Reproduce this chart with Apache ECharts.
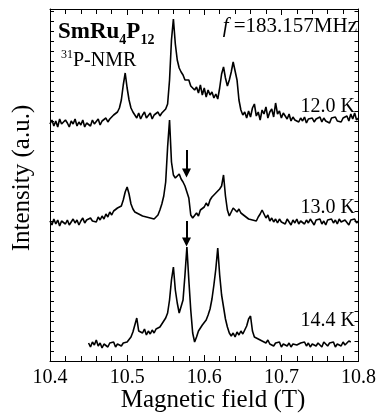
<!DOCTYPE html>
<html>
<head>
<meta charset="utf-8">
<script src="https://cdn.jsdelivr.net/npm/echarts@6/dist/echarts.min.js"></script>
<style>
  html, body { margin: 0; padding: 0; background: #fff; }
  #chart { width: 379px; height: 414px; }
</style>
</head>
<body>
<div id="chart"></div>
<script>
// 31P-NMR spectra of SmRu4P12, f = 183.157 MHz, sampled every 2.5 mT.
const FIELD_STEP = 0.0025;

// 12.0 K trace (intensity relative to its own baseline, a.u.)
const fieldStart12K = 10.40;
const intensity12K = [
  0.0, 0.4, -0.2, 0.3, -0.3, 0.5, 0.0, -0.2, 0.4, 0.1, -0.3, 0.3, 0.0, 0.5, -0.2, 0.2,
  -0.1, 0.4, -0.3, 0.1, 0.3, -0.2, 0.4, 0.0, 0.2, 0.5, -0.1, 0.3, 0.1, 0.6, 0.2, 0.5,
  0.6, 0.9, 0.7, 1.2, 1.6, 2.4, 3.9, 5.1, 3.6, 2.4, 1.6, 1.2, 1.0,
  0.6, 1.1, 0.5, 0.9, 1.2, 0.6, 0.8, 1.1, 0.5, 0.9, 0.7, 1.2, 0.8, 1.1,
  1.2, 1.5, 2.0, 4.4, 8.4, 10.5, 8.0, 6.4, 5.6, 5.2, 4.9, 4.4, 4.2, 4.4, 3.8, 4.0,
  3.4, 3.7, 3.1, 3.9, 2.9, 3.6, 2.7, 3.4, 2.9, 3.2, 2.6, 3.0, 2.5, 3.6, 5.0, 5.7,
  4.6, 3.8, 4.4, 5.2, 6.2, 6.4, 4.4, 2.4, 1.4, 0.9, 1.2, 0.6,
  1.3, 0.7, 1.6, 2.0, 0.8, 1.2, 0.4, 1.4, 1.0, 1.7, 0.6, 1.2, 1.5, 0.7, 2.1, 1.0,
  1.3, 0.6, 1.1, 0.8, 0.5, 1.0, 0.3, 0.7, 0.4, 0.6,
  0.2, 0.6, 0.3, 0.7, 0.1, 0.5, 0.3, 0.6, 0.2, 0.5, 0.4, 0.7, 0.2, 0.6, 0.3, 0.5,
  0.1, 0.6, 0.4, 0.7, 0.3, 0.5, 0.2, 0.6, 0.4, 0.8, 0.3, 1.0, 0.5, 1.1, 0.4, 0.6
];

// 13.0 K trace
const fieldStart13K = 10.40;
const intensity13K = [
  0.1, -0.3, 0.3, -0.2, 0.2, -0.4, 0.1, 0.3, -0.2, 0.2, -0.3, 0.0, 0.3, -0.1, 0.2, -0.3,
  0.1, 0.4, -0.1, 0.2, 0.0, 0.4, 0.1, 0.3, 0.0, 0.5,
  0.2, 0.6, 0.3, 0.8, 0.5, 1.0, 0.7, 1.1, 1.0, 1.4, 1.2, 1.6,
  2.2, 3.0, 3.5, 2.8, 1.8, 1.3, 1.0, 1.1, 0.8, 0.9, 0.6, 0.8, 0.5, 0.7, 0.4, 0.6,
  0.3, 0.5, 0.7, 1.2, 1.8, 2.6, 4.0,
  7.5, 10.2, 6.0, 4.7, 4.4, 4.6, 4.8, 4.3, 4.0, 3.6, 3.0, 2.4, 0.7, 0.4, 0.6, 0.9,
  0.6, 1.2, 1.0, 1.5, 1.9, 1.6, 2.2, 2.5, 2.3, 2.9, 2.7, 3.3, 3.6, 4.7, 2.6, 1.2,
  0.6, 0.8, 1.4, 1.6, 1.0, 1.3, 0.9, 1.1,
  0.6, 0.7, 0.3, 0.5, 0.2, 0.4, 0.1, 0.5, 0.8, 1.2, 1.0, 0.4, 0.7, 0.1, 0.4, 0.0,
  0.3, -0.1, 0.3, 0.0,
  0.2, -0.2, 0.3, 0.0, -0.3, 0.2, -0.1, 0.3, -0.2, 0.1, 0.3, -0.2, 0.2, -0.1, 0.3, 0.0,
  -0.3, 0.2, 0.0, 0.3, -0.2, 0.1, -0.3, 0.2, 0.0, 0.3, -0.1, 0.2, -0.2, 0.3, 0.0, -0.2,
  0.2, 0.1, -0.3, 0.2, 0.0, 0.3, -0.1, 0.1
];

// 14.4 K trace
const fieldStart144K = 10.45;
const intensity144K = [
  0.2, -0.2, 0.3, 0.0, 0.5, -0.1, 0.2, -0.3, 0.1, 0.3, -0.2, 0.2, 0.0, 0.3, -0.2, 0.1,
  0.3, -0.1, 0.2, 0.0, 0.3,
  0.5, 0.8, 1.3, 1.1, 2.7, 1.4, 1.6, 1.2, 1.6, 1.0, 1.4, 1.1, 1.5, 1.2, 1.6, 1.4,
  1.8, 2.0, 2.4, 2.7, 3.2, 4.5, 6.5, 7.8, 5.5, 4.2, 3.2, 3.4, 4.5, 7.0, 9.8, 6.5,
  3.5, 1.2, 0.3,
  0.8, 1.4, 1.6, 2.0, 2.2, 2.5, 3.0, 3.6, 4.6, 6.0, 7.6, 9.7, 7.0, 5.0, 3.8, 2.6,
  1.8, 1.2, 0.9, 1.2, 0.8, 1.3, 1.0, 1.4, 1.1, 1.5, 1.9, 2.6, 2.9, 1.4, 0.8, 1.0,
  0.6, 0.8, 0.4, 0.6, 0.2, 0.5, 0.1,
  0.3, -0.1, 0.2, 0.0, 0.3, -0.2, 0.1, 0.3, -0.1, 0.2, -0.2, 0.1, 0.3, 0.0, -0.2, 0.2,
  0.0, 0.3, -0.1, 0.2, -0.2, 0.1, 0.3, -0.1, 0.2, 0.0, -0.2, 0.3, 0.1, -0.1, 0.2, 0.0,
  0.3, -0.2, 0.1, 0.2, -0.1, 0.3, 0.0, 0.2, 0.4, 0.3
];

// Vertical offsets used to stack the spectra (a.u.)
const traceOffsets = [23.7, 13.9, 1.6];
const temperatureLabels = ['12.0 K', '13.0 K', '14.4 K'];

// Field axis
const fieldMin = 10.4;
const fieldMax = 10.8;
const fieldTickStep = 0.1;

// Arrows marking the line at 10.577 T (start, end intensities in a.u.)
const arrowField = 10.577;
const arrowSpans = [[21.1, 18.8], [14.0, 11.9]];

const FONT = '"Liberation Serif", "Times New Roman", serif';

function buildSeriesData(start, values, offset) {
  return values.map((v, i) => [+(start + i * FIELD_STEP).toFixed(4), +(v + offset).toFixed(2)]);
}

const traces = [
  { start: fieldStart12K, values: intensity12K },
  { start: fieldStart13K, values: intensity13K },
  { start: fieldStart144K, values: intensity144K }
];

const series = traces.map((t, k) => ({
  type: 'line',
  name: temperatureLabels[k],
  data: buildSeriesData(t.start, t.values, traceOffsets[k]),
  showSymbol: false,
  symbol: 'none',
  lineStyle: { color: '#000', width: 1.6 },
  silent: true,
  animation: false
}));

// arrows as mark lines attached to the 13.0 K trace
series[1].markLine = {
  silent: true,
  symbol: ['none', 'triangle'],
  symbolSize: 9,
  label: { show: false },
  lineStyle: { color: '#000', width: 2, type: 'solid' },
  itemStyle: { color: '#000' },
  emphasis: { disabled: true },
  animation: false,
  data: arrowSpans.map(s => [
    { coord: [arrowField, s[0]] },
    { coord: [arrowField, s[1]] }
  ])
};

// text placement helpers
const measureCtx = document.createElement('canvas').getContext('2d');
function fontOf(p) {
  return `${p.style || 'normal'} ${p.weight || 'normal'} ${p.size}px ${FONT}`;
}
function widthOf(p) {
  measureCtx.font = fontOf(p);
  return measureCtx.measureText(p.text).width;
}
function textRuns(x, baseline, parts, alignRight) {
  const total = parts.reduce((s, p) => s + widthOf(p), 0);
  let cx = alignRight ? x - total : x;
  return parts.map(p => {
    const el = {
      type: 'text',
      x: cx,
      y: baseline + (p.dy || 0) - 0.3375 * p.size,
      silent: true,
      style: {
        text: p.text,
        font: fontOf(p),
        fill: '#000',
        align: 'left',
        verticalAlign: 'middle'
      }
    };
    cx += widthOf(p);
    return el;
  });
}

const labelBaselines = [113, 214, 327];
let graphics = [];
graphics = graphics.concat(textRuns(58, 40, [
  { text: 'SmRu', size: 23, weight: 'bold' },
  { text: '4', size: 14, weight: 'bold', dy: 5 },
  { text: 'P', size: 23, weight: 'bold' },
  { text: '12', size: 14, weight: 'bold', dy: 5 }
]));
graphics = graphics.concat(textRuns(61, 67, [
  { text: '31', size: 12, dy: -8 },
  { text: 'P-NMR', size: 20 }
]));
graphics = graphics.concat(textRuns(357, 34, [
  { text: 'f', size: 21, style: 'italic' },
  { text: ' =183.157MHz', size: 21 }
], true));
temperatureLabels.forEach((t, k) => {
  graphics = graphics.concat(textRuns(355, labelBaselines[k], [{ text: t, size: 20 }], true));
});

// axis titles
const NAME_SIZE = 25;
graphics.push({
  type: 'text', x: 213, y: 409 - 0.3375 * NAME_SIZE, silent: true,
  style: { text: 'Magnetic field (T)', font: `${NAME_SIZE}px ${FONT}`, fill: '#000',
           align: 'center', verticalAlign: 'middle' }
});
graphics.push({
  type: 'text', x: 31 - 0.3375 * NAME_SIZE, y: 178, rotation: Math.PI / 2, silent: true,
  style: { text: 'Intensity (a.u.)', font: `${NAME_SIZE}px ${FONT}`, fill: '#000',
           align: 'center', verticalAlign: 'middle' }
});

const axisLine = { show: true, onZero: false, lineStyle: { color: '#000', width: 1 } };

const option = {
  backgroundColor: '#fff',
  animation: false,
  grid: { left: 50, right: 18, top: 9, bottom: 53, containLabel: false },
  xAxis: [
    {
      type: 'value', position: 'bottom',
      min: fieldMin, max: fieldMax, interval: fieldTickStep,
      axisLine: axisLine,
      axisTick: { show: true, inside: true, length: 6, lineStyle: { color: '#000' } },
      minorTick: { show: true, splitNumber: 5, length: 5, lineStyle: { color: '#000' } },
      axisLabel: { fontFamily: FONT, fontSize: 20, color: '#000', margin: 7,
                   formatter: v => v.toFixed(1) },
      splitLine: { show: false }, minorSplitLine: { show: false }
    },
    {
      type: 'value', position: 'top',
      min: fieldMin, max: fieldMax, interval: fieldTickStep,
      axisLine: axisLine,
      axisTick: { show: true, inside: true, length: 6, lineStyle: { color: '#000' } },
      minorTick: { show: true, splitNumber: 5, length: 5, lineStyle: { color: '#000' } },
      axisLabel: { show: false },
      splitLine: { show: false }
    }
  ],
  yAxis: [
    {
      type: 'value', position: 'left',
      min: 0, max: 35.2, interval: 1,
      axisLine: axisLine,
      axisTick: { show: true, inside: true, length: 4, lineStyle: { color: '#000' } },
      axisLabel: { show: false },
      splitLine: { show: false }
    },
    {
      type: 'value', position: 'right',
      min: 0, max: 35.2, interval: 1,
      axisLine: axisLine,
      axisTick: { show: true, inside: true, length: 4, lineStyle: { color: '#000' } },
      axisLabel: { show: false },
      splitLine: { show: false }
    }
  ],
  series: series,
  graphic: graphics
};

const chart = echarts.init(document.getElementById('chart'), null, { renderer: 'canvas' });
chart.setOption(option);
</script>
</body>
</html>
